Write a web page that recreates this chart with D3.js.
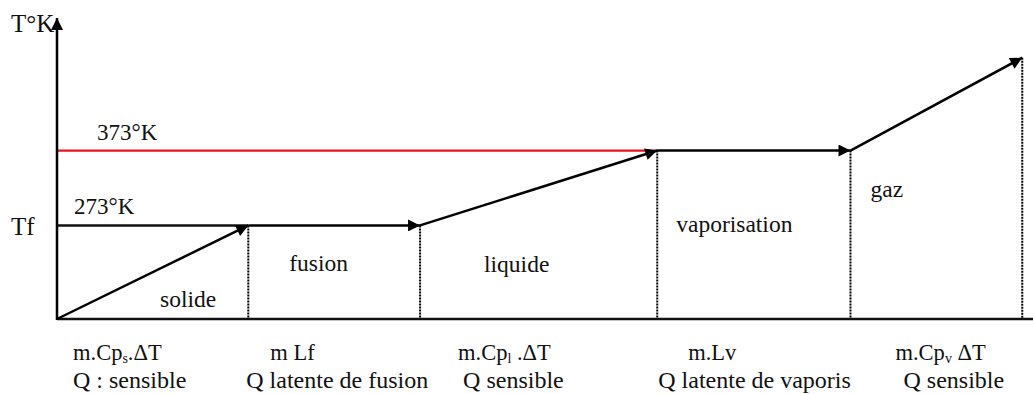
<!DOCTYPE html>
<html>
<head>
<meta charset="utf-8">
<script src="https://cdn.jsdelivr.net/npm/d3@7"></script>
<style>
	body { margin: 0; background: #fff; }
</style>
</head>
<body>
<div id="chart"></div>
<script>
// heating curve of water: cumulative heat (arbitrary units) vs temperature
var heatQ = [0, 19.6, 37.2, 61.5, 81.3, 98.9];
var tempK = [148, 273, 273, 373, 373, 497];
var phases = ["solide", "fusion", "liquide", "vaporisation", "gaz"];
var formulaBase = ["m.Cp", "m Lf", "m.Cp", "m.Lv", "m.Cp"];
var formulaSub = ["s", "", "l", "", "v"];
var formulaRest = [".\u0394T", "", " .\u0394T", "", " \u0394T"];
var heatTypes = ["Q : sensible", "Q latente de fusion", "Q sensible", "Q latente de vaporis", "Q sensible"];
var levelTemps = [273, 373];
var levelLabels = ["273\u00B0K", "373\u00B0K"];

var width = 1033, height = 394;
var font = "Liberation Serif";
var x = d3.scaleLinear().domain([0, 100]).range([57, 1033]);
var y = d3.scaleLinear().domain([148, 550]).range([319, 18]);

var svg = d3.select("#chart").append("svg")
	.attr("width", width)
	.attr("height", height);

var defs = svg.append("defs");
defs.append("marker")
	.attr("id", "head")
	.attr("viewBox", "0 0 10 10")
	.attr("refX", 10)
	.attr("refY", 5)
	.attr("markerUnits", "userSpaceOnUse")
	.attr("markerWidth", 16)
	.attr("markerHeight", 12)
	.attr("orient", "auto")
	.append("path")
	.attr("d", "M0,0L10,5L0,10Z")
	.attr("fill", "#000");

// red reference line at boiling point
svg.append("line")
	.attr("x1", x(0)).attr("x2", x(heatQ[3]))
	.attr("y1", y(levelTemps[1])).attr("y2", y(levelTemps[1]))
	.style("stroke", "#e8141b")
	.style("stroke-width", 2.2);

// dotted drop lines
svg.selectAll("line.drop")
	.data(d3.range(1, heatQ.length))
	.enter().append("line")
	.attr("class", "drop")
	.attr("x1", function(i) { return x(heatQ[i]); })
	.attr("x2", function(i) { return x(heatQ[i]); })
	.attr("y1", function(i) { return y(tempK[i]); })
	.attr("y2", y.range()[0])
	.style("stroke", "#000")
	.style("stroke-width", 2)
	.style("stroke-dasharray", "2,1");

// axes
svg.append("line")
	.attr("x1", x(0)).attr("x2", width)
	.attr("y1", y.range()[0]).attr("y2", y.range()[0])
	.style("stroke", "#111")
	.style("stroke-width", 2.5);
svg.append("line")
	.attr("x1", x(0)).attr("x2", x(0))
	.attr("y1", y.range()[0] + 1).attr("y2", y.range()[1])
	.style("stroke", "#000")
	.style("stroke-width", 2.5)
	.attr("marker-end", "url(#head)");

// Tf line from axis to start of liquid
svg.append("line")
	.attr("x1", x(0)).attr("x2", x(heatQ[1]))
	.attr("y1", y(levelTemps[0])).attr("y2", y(levelTemps[0]))
	.style("stroke", "#111")
	.style("stroke-width", 2.5);

// curve segments with arrowheads
svg.selectAll("line.seg")
	.data(d3.range(0, heatQ.length - 1))
	.enter().append("line")
	.attr("class", "seg")
	.attr("x1", function(i) { return x(heatQ[i]); })
	.attr("y1", function(i) { return y(tempK[i]); })
	.attr("x2", function(i) { return x(heatQ[i + 1]); })
	.attr("y2", function(i) { return y(tempK[i + 1]); })
	.style("stroke", "#000")
	.style("stroke-width", 2.5)
	.attr("marker-end", "url(#head)");

// axis labels
svg.append("text").attr("x", 11).attr("y", 32)
	.attr("font-family", font).attr("font-size", 25).attr("fill", "#111")
	.text("T\u00B0K");
svg.append("text").attr("x", 11).attr("y", 235)
	.attr("font-family", font).attr("font-size", 25).attr("fill", "#111")
	.text("Tf");

var levelDx = [17, 40];
svg.selectAll("text.level")
	.data(levelLabels)
	.enter().append("text")
	.attr("class", "level")
	.attr("x", function(d, i) { return x(0) + levelDx[i]; })
	.attr("y", function(d, i) { return y(levelTemps[i]) - 11; })
	.attr("font-family", font)
	.attr("font-size", 23)
	.attr("fill", "#111")
	.text(function(d) { return d; });

// phase names
var phaseDx = [103, 41, 64, 19, 20];
var phaseY = [307, 271, 272, 232, 197];
svg.selectAll("text.phase")
	.data(phases)
	.enter().append("text")
	.attr("class", "phase")
	.attr("x", function(d, i) { return x(heatQ[i]) + phaseDx[i]; })
	.attr("y", function(d, i) { return phaseY[i]; })
	.attr("font-family", font)
	.attr("font-size", 23.5)
	.attr("fill", "#111")
	.text(function(d) { return d; });

// heat formulas under the axis
var formulaDx = [16, 22, 38, 31, 45];
var typeDx = [16, -2, 43, 1, 53];
var formulas = svg.selectAll("text.formula")
	.data(formulaBase)
	.enter().append("text")
	.attr("class", "formula")
	.attr("x", function(d, i) { return x(heatQ[i]) + formulaDx[i]; })
	.attr("y", 360)
	.attr("font-family", font)
	.attr("font-size", 22.5)
	.attr("fill", "#111");
formulas.append("tspan").text(function(d) { return d; });
formulas.append("tspan")
	.attr("dy", 3)
	.attr("font-size", 14)
	.text(function(d, i) { return formulaSub[i]; });
formulas.append("tspan")
	.attr("dy", -3)
	.text(function(d, i) { return formulaRest[i]; });

svg.selectAll("text.heat")
	.data(heatTypes)
	.enter().append("text")
	.attr("class", "heat")
	.attr("x", function(d, i) { return x(heatQ[i]) + typeDx[i]; })
	.attr("y", 388)
	.attr("font-family", font)
	.attr("font-size", 24)
	.attr("fill", "#111")
	.text(function(d) { return d; });
</script>
</body>
</html>
